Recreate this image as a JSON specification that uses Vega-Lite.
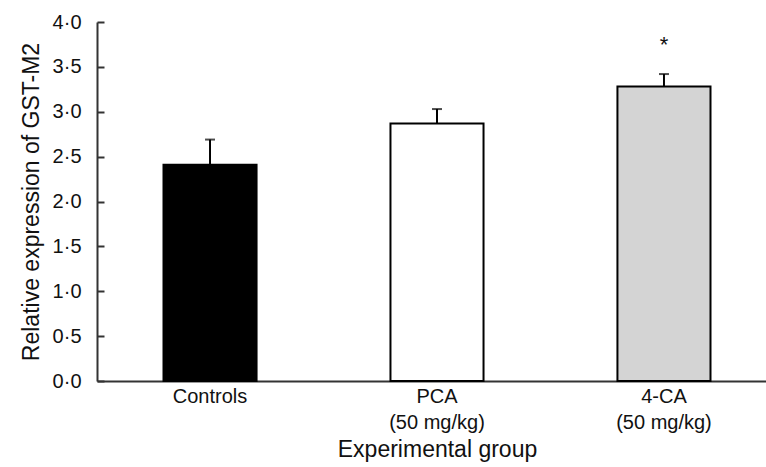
{
  "$schema": "https://vega.github.io/schema/vega-lite/v6.json",
  "autosize": "none",
  "width": 680,
  "height": 359,
  "padding": {"left": 97, "top": 22, "right": 0, "bottom": 86},
  "background": "white",
  "config": {
    "view": {"stroke": null},
    "font": "Liberation Sans",
    "axis": {"labelFont": "Liberation Sans", "titleFont": "Liberation Sans", "labelColor": "#111", "titleColor": "#111", "titleFontWeight": "normal", "grid": false, "domainColor": "#333", "domainWidth": 2, "tickColor": "#333", "tickWidth": 2}
  },
  "data": {
    "values": [
      {"group": "Controls", "mean": 2.41, "upper": 2.69, "sig": ""},
      {"group": "PCA|(50 mg/kg)", "mean": 2.87, "upper": 3.03, "sig": ""},
      {"group": "4-CA|(50 mg/kg)", "mean": 3.28, "upper": 3.42, "sig": "*"}
    ]
  },
  "encoding": {
    "x": {
      "field": "group", "type": "nominal", "sort": null,
      "scale": {"paddingInner": 0.59, "paddingOuter": 0.293},
      "axis": {"title": "Experimental group", "labelAngle": 0, "ticks": false, "labelFontSize": 20, "titleFontSize": 23, "labelPadding": 5, "labelLineHeight": 26, "titlePadding": 6, "labelExpr": "split(datum.label, '|')"}
    }
  },
  "layer": [
    {
      "mark": {"type": "bar", "stroke": "#000", "strokeWidth": 2},
      "encoding": {
        "y": {"field": "mean", "type": "quantitative", "scale": {"domain": [0, 4]},
          "axis": {"title": "Relative expression of GST-M2", "values": [0, 0.5, 1, 1.5, 2, 2.5, 3, 3.5, 4], "tickSize": -7, "labelPadding": 23, "labelFontSize": 20, "titleFontSize": 23, "titlePadding": 9, "labelExpr": "replace(format(datum.value, '.1f'), '.', '·')"}},
        "fill": {"field": "group", "type": "nominal", "sort": null, "legend": null,
          "scale": {"domain": ["Controls", "PCA|(50 mg/kg)", "4-CA|(50 mg/kg)"], "range": ["#000000", "#ffffff", "#d4d4d4"]}}
      }
    },
    {
      "mark": {"type": "rule", "color": "#000", "strokeWidth": 2},
      "encoding": {"y": {"field": "mean", "type": "quantitative"}, "y2": {"field": "upper"}}
    },
    {
      "mark": {"type": "tick", "color": "#000", "thickness": 2, "size": 10, "orient": "horizontal"},
      "encoding": {"y": {"field": "upper", "type": "quantitative"}}
    },
    {
      "mark": {"type": "text", "fontSize": 22, "baseline": "alphabetic", "dy": -22, "color": "#111"},
      "encoding": {"y": {"field": "upper", "type": "quantitative"}, "text": {"field": "sig"}}
    }
  ]
}
